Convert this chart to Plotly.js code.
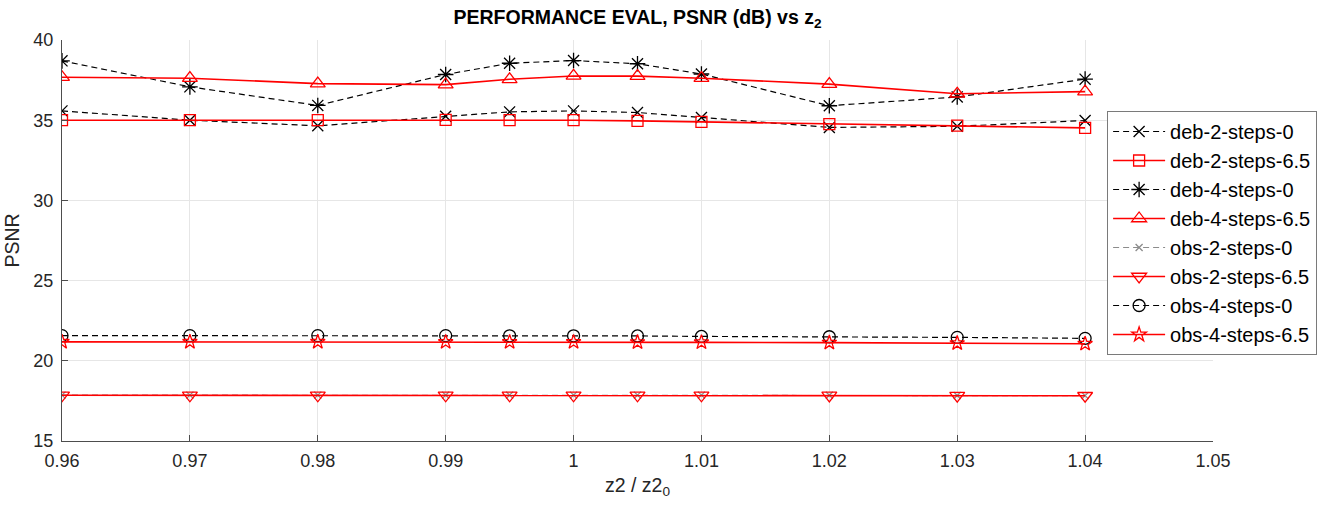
<!DOCTYPE html>
<html>
<head>
<meta charset="utf-8">
<script src="https://cdn.plot.ly/plotly-3.0.1.min.js"></script>
<style>
  html, body { margin: 0; padding: 0; background: #fff; }
  #chart { width: 1335px; height: 506px; }
</style>
</head>
<body>
<div id="chart"></div>
<script>
// ---- data ----
const z2 = [0.96, 0.97, 0.98, 0.99, 0.995, 1.0, 1.005, 1.01, 1.02, 1.03, 1.04];

const deb2steps0   = [35.58, 35.00, 34.65, 35.25, 35.52, 35.58, 35.48, 35.17, 34.55, 34.62, 34.98];
const deb2steps65  = [35.00, 35.00, 35.00, 35.02, 35.00, 35.00, 34.96, 34.90, 34.75, 34.66, 34.52];
const deb4steps0   = [38.70, 37.08, 35.92, 37.85, 38.55, 38.72, 38.52, 37.88, 35.90, 36.45, 37.56];
const deb4steps65  = [37.68, 37.62, 37.28, 37.22, 37.55, 37.76, 37.75, 37.62, 37.25, 36.65, 36.78];
const obs2steps0   = [17.86, 17.86, 17.86, 17.86, 17.86, 17.86, 17.86, 17.86, 17.85, 17.84, 17.83];
const obs2steps65  = [17.85, 17.85, 17.85, 17.85, 17.85, 17.85, 17.85, 17.85, 17.84, 17.83, 17.82];
const obs4steps0   = [21.57, 21.57, 21.57, 21.57, 21.56, 21.56, 21.55, 21.52, 21.50, 21.46, 21.40];
const obs4steps65  = [21.18, 21.18, 21.18, 21.17, 21.17, 21.17, 21.16, 21.15, 21.13, 21.10, 21.06];

const seriesNames = ["deb-2-steps-0", "deb-2-steps-6.5", "deb-4-steps-0", "deb-4-steps-6.5",
                     "obs-2-steps-0", "obs-2-steps-6.5", "obs-4-steps-0", "obs-4-steps-6.5"];

const xTickVals = [0.96, 0.97, 0.98, 0.99, 1.0, 1.01, 1.02, 1.03, 1.04, 1.05];
const xTickText = ["0.96", "0.97", "0.98", "0.99", "1", "1.01", "1.02", "1.03", "1.04", "1.05"];
const yTickVals = [15, 20, 25, 30, 35, 40];

// ---- styles ----
const blackDash = {color: "#000000", width: 1.2, dash: "6px,4px"};
const grayDash  = {color: "#8c8c8c", width: 1.2, dash: "6px,4px"};
const redSolid  = {color: "#ff0000", width: 1.6};

function tr(name, y, line, symbol, size, mcolor) {
  return {
    x: z2, y: y, name: name, type: "scatter", mode: "lines+markers",
    line: line,
    marker: {symbol: symbol, size: size, color: mcolor, line: {color: mcolor, width: 1.3}}
  };
}

const data = [
  tr(seriesNames[0], deb2steps0,  blackDash, "x-thin-open", 11, "#000000"),
  tr(seriesNames[1], deb2steps65, redSolid,  "square-open", 11, "#ff0000"),
  tr(seriesNames[2], deb4steps0,  blackDash, "asterisk-open", 13, "#000000"),
  tr(seriesNames[3], deb4steps65, redSolid,  "triangle-up-open", 13, "#ff0000"),
  tr(seriesNames[4], obs2steps0,  grayDash,  "x-thin-open", 7, "#8c8c8c"),
  tr(seriesNames[5], obs2steps65, redSolid,  "triangle-down-open", 13, "#ff0000"),
  tr(seriesNames[6], obs4steps0,  blackDash, "circle-open", 12, "#000000"),
  tr(seriesNames[7], obs4steps65, redSolid,  "star-open", 11, "#ff0000")
];

const fontFam = "Liberation Sans, Arial, sans-serif";

const layout = {
  width: 1335, height: 506,
  margin: {l: 62, r: 122, t: 40, b: 65},
  paper_bgcolor: "#ffffff",
  plot_bgcolor: "#ffffff",
  font: {family: fontFam, color: "#262626", size: 18},
  title: {
    text: "<b>PERFORMANCE EVAL, PSNR (dB) vs z<sub>2</sub></b>",
    font: {family: fontFam, size: 19.5, color: "#000000"},
    x: 0.5, xref: "paper", xanchor: "center",
    y: 17, yref: "container", yanchor: "middle"
  },
  xaxis: {
    range: [0.96, 1.05],
    tickvals: xTickVals, ticktext: xTickText,
    showgrid: true, gridcolor: "#e6e6e6", gridwidth: 1,
    zeroline: false,
    showline: true, linecolor: "#4d4d4d", linewidth: 1,
    ticks: "inside", ticklen: 6, tickcolor: "#4d4d4d",
    tickfont: {size: 18, color: "#262626"},
    ticklabelstandoff: 3,
    title: {text: "z2 / z2<sub>0</sub>", font: {size: 19.5, color: "#262626"}, standoff: 8}
  },
  yaxis: {
    range: [15, 40],
    tickvals: yTickVals,
    showgrid: true, gridcolor: "#e6e6e6", gridwidth: 1,
    zeroline: false,
    showline: true, linecolor: "#4d4d4d", linewidth: 1,
    ticks: "inside", ticklen: 6, tickcolor: "#4d4d4d",
    tickfont: {size: 18, color: "#262626"},
    ticklabelstandoff: 4,
    title: {text: "PSNR", font: {size: 19.5, color: "#262626"}, standoff: 8}
  },
  showlegend: true,
  legend: {
    x: 0.908, xanchor: "left", y: 0.823, yanchor: "top",
    bgcolor: "#ffffff", bordercolor: "#7a7a7a", borderwidth: 1,
    font: {size: 20, color: "#000000", family: fontFam},
    tracegroupgap: 0,
    itemwidth: 52
  }
};

// title y given in container pixels -> convert to fraction
layout.title.y = 1 - layout.title.y / layout.height;

Plotly.newPlot("chart", data, layout, {staticPlot: true, displayModeBar: false});
</script>
</body>
</html>
